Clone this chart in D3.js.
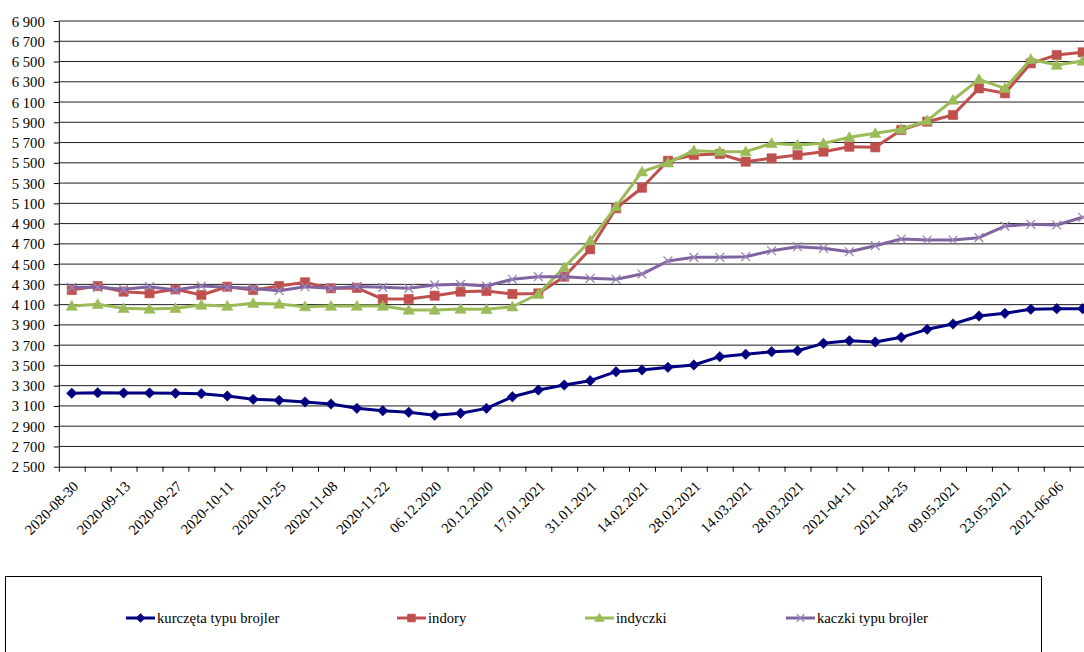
<!DOCTYPE html>
<html lang="pl">
<head>
<meta charset="utf-8">
<title>Ceny drobiu rzeźnego</title>
<script src="https://cdn.jsdelivr.net/npm/d3@7"></script>
<style>
  html, body { margin: 0; padding: 0; background: #fff; }
  body { width: 1084px; height: 652px; overflow: hidden; }
  svg { display: block; }
  svg text { font-family: "Liberation Serif", "Times New Roman", "DejaVu Serif", serif; fill: #000; }
  .grid line { stroke: #1e1e1e; stroke-width: 1; }
  .axis path, .axis line { stroke: #000; stroke-width: 1; }
  .axis text { font-size: 14.7px; }
  .legend-box { fill: none; stroke: #000; stroke-width: 1; }
  .legend text { font-size: 14.7px; }
</style>
</head>
<body>
<div id="chart"></div>
<script>
// categories (weekly notations)
const dates = [
  "2020-08-30", "2020-09-06", "2020-09-13", "2020-09-20", "2020-09-27", "2020-10-04",
  "2020-10-11", "2020-10-18", "2020-10-25", "2020-11-01", "2020-11-08", "2020-11-15",
  "2020-11-22", "2020-11-29", "06.12.2020", "13.12.2020", "20.12.2020", "03.01.2021",
  "17.01.2021", "24.01.2021", "31.01.2021", "07.02.2021", "14.02.2021", "21.02.2021",
  "28.02.2021", "07.03.2021", "14.03.2021", "21.03.2021", "28.03.2021", "2021-04-04",
  "2021-04-11", "2021-04-18", "2021-04-25", "02.05.2021", "09.05.2021", "16.05.2021",
  "23.05.2021", "30.05.2021", "2021-06-06", "2021-06-13"
];

// labels shown under the axis
const labelDates = [
  "2020-08-30", "2020-09-13", "2020-09-27", "2020-10-11", "2020-10-25", "2020-11-08",
  "2020-11-22", "06.12.2020", "20.12.2020", "17.01.2021", "31.01.2021", "14.02.2021",
  "28.02.2021", "14.03.2021", "28.03.2021", "2021-04-11", "2021-04-25", "09.05.2021",
  "23.05.2021", "2021-06-06"
];

const yTicks = [2500, 2700, 2900, 3100, 3300, 3500, 3700, 3900, 4100, 4300, 4500,
  4700, 4900, 5100, 5300, 5500, 5700, 5900, 6100, 6300, 6500, 6700, 6900];

const kurczeta = [
  3225, 3230, 3228, 3228, 3225, 3221, 3198, 3165, 3155, 3139, 3119, 3076, 3053, 3037,
  3007, 3027, 3076, 3191, 3257, 3306, 3349, 3438, 3455, 3481, 3504, 3586, 3610, 3635,
  3645, 3718, 3744, 3731, 3777, 3856, 3909, 3988, 4014, 4054, 4060, 4060
];

const indory = [
  4244, 4283, 4228, 4212, 4251, 4195, 4277, 4244, 4283, 4320, 4261, 4265, 4155, 4155,
  4188, 4228, 4234, 4205, 4211, 4376, 4646, 5051, 5254, 5520, 5577, 5587, 5511, 5544,
  5577, 5610, 5659, 5653, 5824, 5906, 5972, 6235, 6186, 6482, 6564, 6591
];

const indyczki = [
  4086, 4103, 4064, 4057, 4064, 4096, 4086, 4113, 4106, 4080, 4086, 4086, 4086, 4047,
  4047, 4057, 4054, 4079, 4205, 4468, 4731, 5067, 5412, 5500, 5620, 5610, 5610, 5692,
  5676, 5692, 5752, 5791, 5831, 5916, 6120, 6324, 6235, 6522, 6465, 6505
];

const kaczki = [
  4271, 4271, 4251, 4277, 4244, 4284, 4271, 4261, 4238, 4277, 4261, 4280, 4271, 4261,
  4294, 4300, 4284, 4350, 4376, 4376, 4360, 4350, 4402, 4531, 4567, 4567, 4573, 4632,
  4672, 4656, 4622, 4682, 4748, 4738, 4738, 4761, 4876, 4893, 4886, 4962
];

const seriesNames = ["kurczęta typu brojler", "indory", "indyczki", "kaczki typu brojler"];

(function () {
  "use strict";

  const width = 1084;
  const height = 652;
  const plot = { left: 58.8, top: 21, bottom: 466.7, step: 25.92 };

  const series = [
    { name: seriesNames[0], values: kurczeta, color: "#000080", marker: "diamond" },
    { name: seriesNames[1], values: indory, color: "#C0504D", marker: "square" },
    { name: seriesNames[2], values: indyczki, color: "#9BBB59", marker: "triangle" },
    { name: seriesNames[3], values: kaczki, color: "#8064A2", marker: "cross" }
  ];

  const legendX = [126, 397, 585, 786];

  const markerPath = (type, k = 1) => {
    const p = d3.path();
    if (type === "diamond") {
      const r = 5.2 * k;
      p.moveTo(0, -r); p.lineTo(r, 0); p.lineTo(0, r); p.lineTo(-r, 0); p.closePath();
    } else if (type === "square") {
      const r = 4.6 * k;
      p.rect(-r, -r, 2 * r, 2 * r);
    } else if (type === "triangle") {
      const r = 5.6 * k;
      p.moveTo(0, -r); p.lineTo(r, r * 0.75); p.lineTo(-r, r * 0.75); p.closePath();
    } else {
      const r = 4.4 * k;
      p.moveTo(-r, -r); p.lineTo(r, r); p.moveTo(-r, r); p.lineTo(r, -r);
    }
    return p.toString();
  };

  const fmt = d3.formatLocale({ decimal: ",", thousands: " ", grouping: [3], currency: ["", ""] }).format(",d");

  const svg = d3.select("#chart")
    .append("svg")
    .attr("width", width)
    .attr("height", height);

  const x = d3.scaleBand()
    .domain(dates)
    .range([plot.left, plot.left + plot.step * dates.length])
    .padding(0);

  const xEdge = d3.scaleLinear()
    .domain([0, dates.length])
    .range([plot.left, plot.left + plot.step * dates.length]);

  const y = d3.scaleLinear()
    .domain([yTicks[0], yTicks[yTicks.length - 1]])
    .range([plot.bottom, plot.top]);

  const cx = (d) => x(d) + x.bandwidth() / 2;

  // horizontal grid
  svg.append("g")
    .attr("class", "grid")
    .selectAll("line")
    .data(yTicks.slice(1))
    .join("line")
    .attr("x1", plot.left)
    .attr("x2", xEdge(dates.length))
    .attr("y1", y)
    .attr("y2", y);

  // y axis
  svg.append("g")
    .attr("class", "axis")
    .attr("transform", `translate(${plot.left},0)`)
    .call(d3.axisLeft(y).tickValues(yTicks).tickFormat(fmt).tickSize(5).tickSizeOuter(0).tickPadding(9))
    .call((g) => g.attr("font-family", null).attr("font-size", null))
    .call((g) => g.selectAll("text").attr("dy", "0.34em"));

  // x axis: tick marks between categories
  svg.append("g")
    .attr("class", "axis")
    .attr("transform", `translate(0,${plot.bottom})`)
    .call(d3.axisBottom(xEdge).tickValues(d3.range(dates.length + 1)).tickFormat("").tickSize(5).tickSizeOuter(0));

  // x labels, rotated
  svg.append("g")
    .attr("class", "axis")
    .attr("transform", `translate(0,${plot.bottom})`)
    .call(d3.axisBottom(x).tickValues(labelDates).tickSize(0))
    .call((g) => g.attr("font-family", null).attr("font-size", null))
    .call((g) => g.select(".domain").remove())
    .call((g) => g.selectAll("text")
      .attr("x", 0)
      .attr("y", 0)
      .attr("dy", "0.34em")
      .attr("text-anchor", "end")
      .attr("transform", "translate(4,17) rotate(-45)"));

  const line = d3.line()
    .x((_, i) => cx(dates[i]))
    .y((v) => y(v));

  const groups = svg.append("g")
    .selectAll("g")
    .data(series)
    .join("g");

  groups.append("path")
    .attr("fill", "none")
    .attr("stroke", (s) => s.color)
    .attr("stroke-width", 3)
    .attr("stroke-linejoin", "round")
    .attr("d", (s) => line(s.values));

  groups.each(function (s) {
    d3.select(this)
      .selectAll("path.mark")
      .data(s.values)
      .join("path")
      .attr("class", "mark")
      .attr("transform", (v, i) => `translate(${cx(dates[i])},${y(v)})`)
      .attr("d", markerPath(s.marker))
      .attr("fill", s.marker === "cross" ? "none" : s.color)
      .attr("stroke", s.marker === "cross" ? "#9b85b8" : s.color)
      .attr("stroke-width", s.marker === "cross" ? 1.3 : 0.6);
  });

  // legend
  const legend = svg.append("g").attr("class", "legend");

  legend.append("rect")
    .attr("class", "legend-box")
    .attr("x", 5.5)
    .attr("y", 576.5)
    .attr("width", 1036)
    .attr("height", 120);

  const items = legend.selectAll("g")
    .data(series)
    .join("g")
    .attr("transform", (_, i) => `translate(${legendX[i]},618)`);

  items.append("line")
    .attr("x1", 0)
    .attr("x2", 29)
    .attr("stroke", (s) => s.color)
    .attr("stroke-width", 3);

  items.append("path")
    .attr("transform", "translate(14.5,0)")
    .attr("d", (s) => markerPath(s.marker, 0.85))
    .attr("fill", (s) => (s.marker === "cross" ? "none" : s.color))
    .attr("stroke", (s) => (s.marker === "cross" ? "#9b85b8" : s.color))
    .attr("stroke-width", (s) => (s.marker === "cross" ? 1.3 : 0.6));

  items.append("text")
    .attr("x", 31)
    .attr("dy", "0.34em")
    .text((s) => s.name);
})();
</script>
</body>
</html>
